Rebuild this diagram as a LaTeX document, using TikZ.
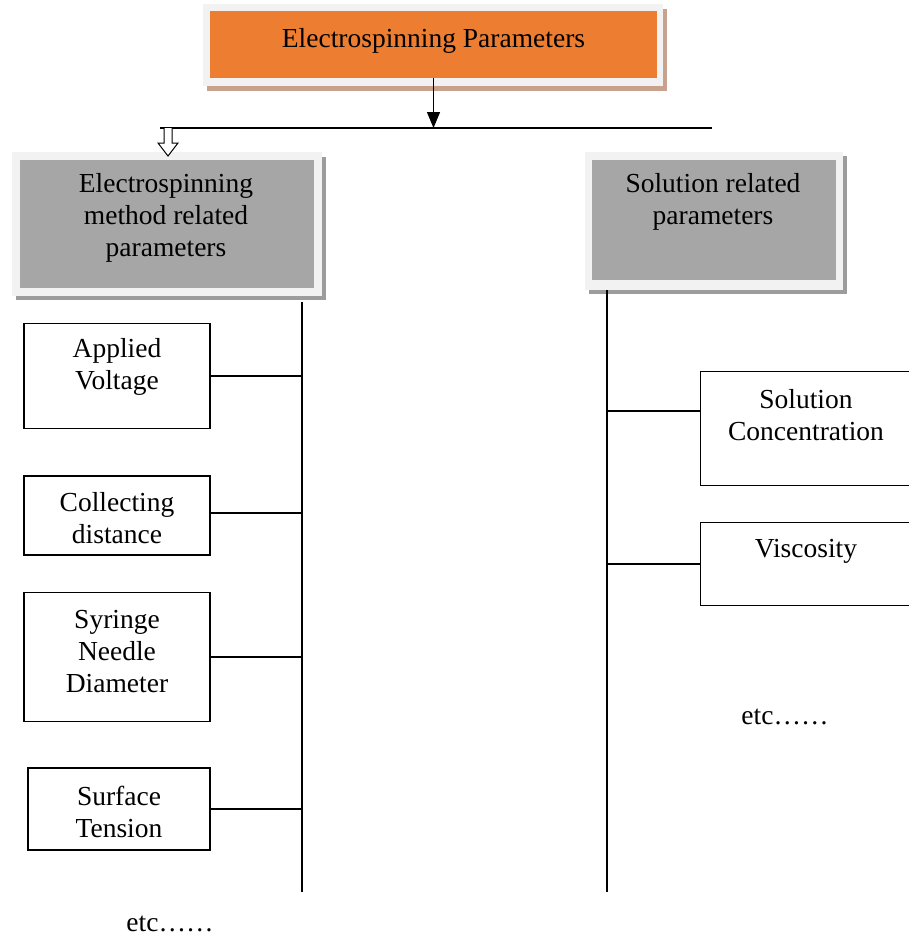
\documentclass[tikz,border=0pt]{standalone}
\usepackage{fontspec}
\setmainfont{Liberation Serif}
\usetikzlibrary{arrows.meta}
\definecolor{headorange}{HTML}{ED7D31}
\definecolor{groupgray}{HTML}{A6A6A6}
\definecolor{framegray}{HTML}{F2F2F2}
\definecolor{shadegray}{HTML}{9C9C9C}
\definecolor{shadebrown}{HTML}{C8A28C}
\begin{document}
\begin{tikzpicture}[x=1pt,y=-1pt,line width=1.2pt,font=\fontsize{27.5}{32}\selectfont]
        \tikzstyle{head}=[fill=headorange,inner sep=0pt,minimum width=447pt,minimum height=67pt]
        \tikzstyle{group}=[fill=groupgray,inner sep=0pt]
        \tikzstyle{param}=[draw=black,fill=white,inner sep=0pt,minimum width=186pt]
        \tikzstyle{txt}=[align=center,inner sep=0pt]
        \tikzstyle{edge}=[draw,line width=1.2pt]
        \useasboundingbox (0,0) rectangle (908,937);
       % main heading
       \begin{scope}
         \fill[shadebrown] (207,9) rectangle (667,91);
         \fill[framegray] (203,4) rectangle (663,86);
         \node [head,text depth=13pt] (top) at (433.5,44) {Electrospinning Parameters};
         \coordinate (busL) at (160,128);
         \coordinate (busR) at (712,128);
         \path[edge] (busL) -- (busR);
         \path[edge,-{Triangle[length=16pt,width=13pt]}] (top.south) -- (top.south |- busL);
       \end{scope}
       % two groups
       \begin{scope}
         \fill[shadegray] (16,157) rectangle (326,300);
         \fill[framegray] (12,152) rectangle (322,296);
         \node [group,minimum width=294pt,minimum height=128pt] (method) at (167,224) {};
         \node [txt] (methodtxt) at (166,218) {Electrospinning\\method related\\parameters};
         \fill[shadegray] (589,156) rectangle (847,294);
         \fill[framegray] (585,152) rectangle (843,290);
         \node [group,minimum width=244pt,minimum height=120pt] (solution) at (714,220) {};
         \node [txt] (solutiontxt) at (713,202) {Solution related\\parameters};
         \coordinate (hollow) at (168,128);
         \draw[fill=white,line width=1pt] (hollow) ++(-4,0) -- ++(0,15) -- ++(-6,0) -- ++(10,13)
               -- ++(10,-13) -- ++(-6,0) -- ++(0,-15);
       \end{scope}
       % method related parameters
       \begin{scope}
         \coordinate (spineL) at (302,302);
         \coordinate (spineLend) at (302,892);
         \path[edge] (spineL) -- (spineLend);
         \node [param,minimum height=105pt] (volt) at (117,376) {};
         \node [txt] (volttxt) at (117,367) {Applied\\Voltage};
         \node [param,minimum height=79pt] (dist) at (117,515.5) {};
         \node [txt] (disttxt) at (117,518) {Collecting\\distance};
         \node [param,minimum height=129pt] (needle) at (117,657) {};
         \node [txt] (needletxt) at (117,652) {Syringe\\Needle\\Diameter};
         \node [param,minimum width=182pt,minimum height=82pt] (tension) at (119,809) {};
         \node [txt] (tensiontxt) at (119,812) {Surface\\Tension};
         \path[edge] (volt.east) -- (volt.east -| spineL);
         \path[edge] (dist) ++(93,-2.5) coordinate (distc) -- (distc -| spineL);
         \path[edge] (needle.east) -- (needle.east -| spineL);
         \path[edge] (tension.east) -- (tension.east -| spineL);
         \node [txt] (etcL) at (170,924) {etc……};
       \end{scope}
       % solution related parameters
       \begin{scope}
         \coordinate (spineR) at (607,290);
         \coordinate (spineRend) at (607,892);
         \path[edge] (spineR) -- (spineRend);
         \node [param,minimum width=212pt,minimum height=114pt,anchor=north west] (conc) at (700,371) {};
         \node [txt] (conctxt) at (806,415) {Solution\\Concentration};
         \node [param,minimum width=212pt,minimum height=83pt,anchor=north west] (visc) at (700,522) {};
         \node [txt] (visctxt) at (806,551) {Viscosity};
         \path[edge] (conc.west |- 0,411) coordinate (concc) -- (concc -| spineR);
         \path[edge] (visc.west |- 0,564) coordinate (viscc) -- (viscc -| spineR);
         \node [txt] (etcR) at (785,717) {etc……};
       \end{scope}
\end{tikzpicture}
\end{document}
